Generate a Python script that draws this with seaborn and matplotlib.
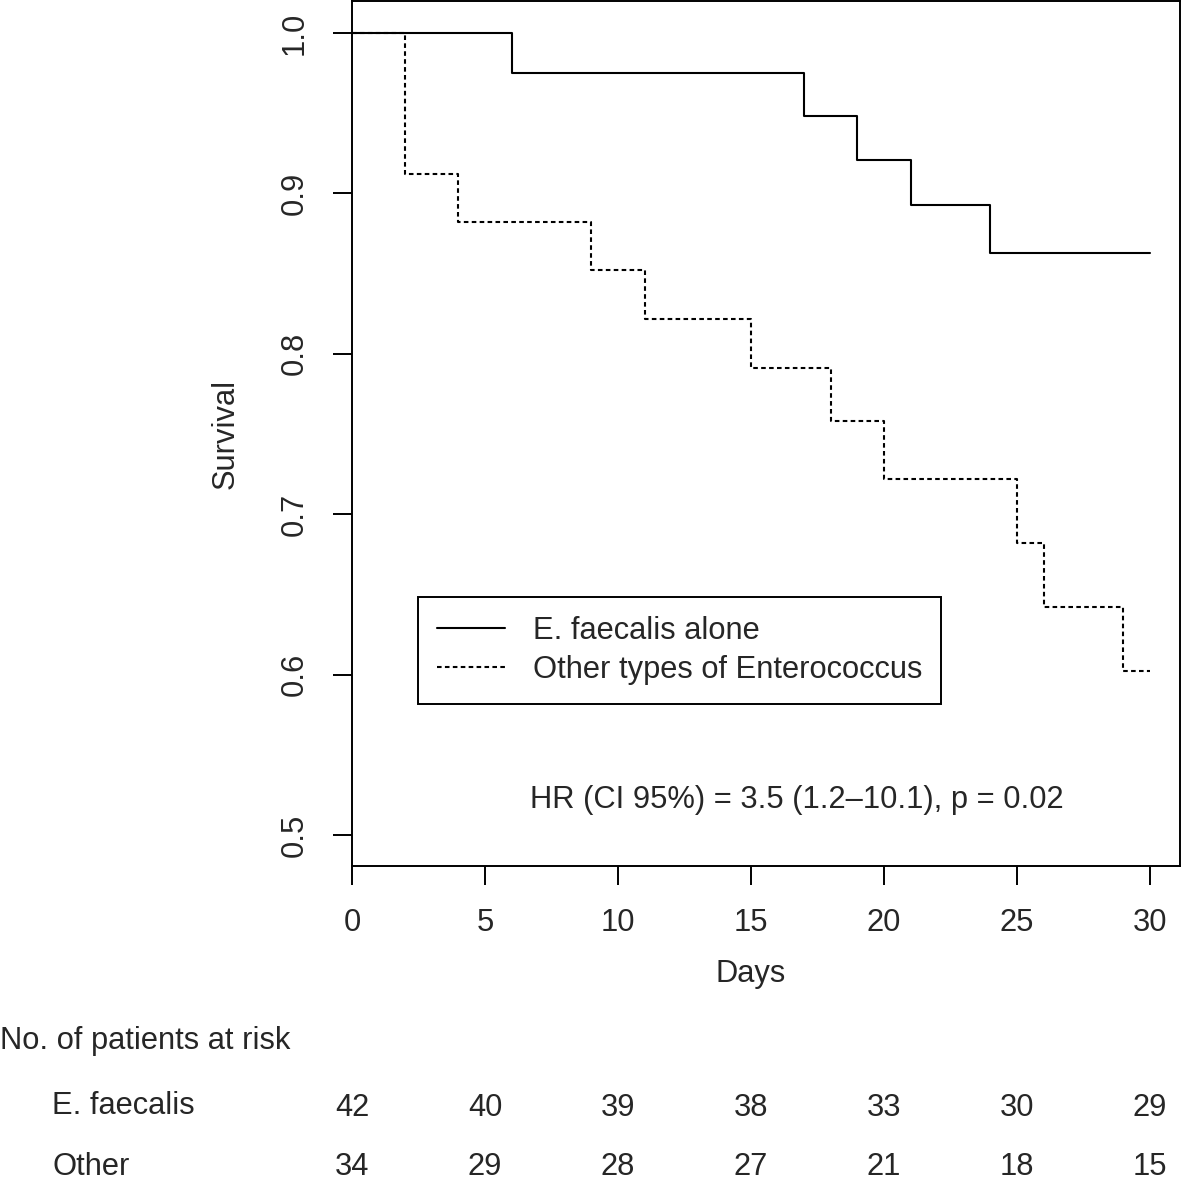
import pandas as pd
import matplotlib.pyplot as plt
import matplotlib.transforms as mtransforms
from matplotlib.lines import Line2D
import seaborn as sns

# Kaplan-Meier curves
faecalis_days = [0, 6, 17, 19, 21, 24, 30]
faecalis_surv = [1.0, 0.975, 0.948, 0.921, 0.893, 0.863, 0.863]

other_days = [0, 2, 4, 9, 11, 15, 18, 20, 25, 26, 29, 30]
other_surv = [1.0, 0.912, 0.882, 0.852, 0.822, 0.791, 0.758, 0.722, 0.682, 0.642, 0.602, 0.602]

group_names = ["E. faecalis alone", "Other types of Enterococcus"]

# Patients at risk table
risk_days = [0, 5, 10, 15, 20, 25, 30]
risk_faecalis = [42, 40, 39, 38, 33, 30, 29]
risk_other = [34, 29, 28, 27, 21, 18, 15]

df = pd.concat([
    pd.DataFrame({"Days": faecalis_days, "Survival": faecalis_surv, "Group": group_names[0]}),
    pd.DataFrame({"Days": other_days, "Survival": other_surv, "Group": group_names[1]}),
])

FS = 22.2
sns.set_style("white")
plt.rcParams['font.family'] = ['Liberation Sans', 'DejaVu Sans']
plt.rcParams['font.size'] = FS

fig = plt.figure(figsize=(11.82, 11.83), dpi=100)
ax = fig.add_axes([352 / 1182, 317 / 1183, 828 / 1182, 865 / 1183])

sns.lineplot(data=df, x="Days", y="Survival", style="Group", estimator=None,
             drawstyle="steps-post", color="black", linewidth=1.5,
             dashes={group_names[0]: "", group_names[1]: (2.2, 1.6)},
             legend=False, ax=ax)

ax.set_xlim(0, 31.13)
ax.set_ylim(0.4807, 1.02)
ax.set_xticks(range(0, 31, 5))
ax.set_yticks([0.5, 0.6, 0.7, 0.8, 0.9, 1.0])
ax.set_yticklabels(["0.5", "0.6", "0.7", "0.8", "0.9", "1.0"], rotation=90, va="center")
ax.tick_params(direction="out", length=13.5, width=1.4, color="black", pad=17,
               labelsize=FS, left=True, bottom=True)
for s in ax.spines.values():
    s.set_color("black")
    s.set_linewidth(1.4)

ax.set_xlabel("Days", fontsize=FS, labelpad=18)
ax.xaxis.set_label_coords(15 / 31.13, -0.108)
ax.set_ylabel("Survival", fontsize=FS, labelpad=28)

# legend
handles = [Line2D([], [], color="black", lw=1.5),
           Line2D([], [], color="black", lw=1.5, dashes=(2.2, 1.6))]
leg = ax.legend(handles, group_names, loc="lower left",
                bbox_to_anchor=(0.0797, 0.187), fancybox=False, framealpha=1,
                edgecolor="black", fontsize=FS, handlelength=2.2,
                handletextpad=0.9, borderpad=0.62, labelspacing=0.3,
                borderaxespad=0)
leg.get_frame().set_linewidth(1.4)

ax.text((530 - 352) / 828, (866 - 800) / 865, "HR (CI 95%) = 3.5 (1.2\u201310.1), p = 0.02",
        transform=ax.transAxes, fontsize=FS, va="center", ha="left")

# at risk table
trans = mtransforms.blended_transform_factory(ax.transData, fig.transFigure)
fig.text(0, 1 - 1041 / 1183, "No. of patients at risk", fontsize=FS, va="center", ha="left")
fig.text(52 / 1182, 1 - 1106 / 1183, "E. faecalis", fontsize=FS, va="center", ha="left")
fig.text(52 / 1182, 1 - 1167 / 1183, "Other", fontsize=FS, va="center", ha="left")
for d, a, b in zip(risk_days, risk_faecalis, risk_other):
    ax.text(d, 1 - 1108 / 1183, str(a), transform=trans, fontsize=FS, va="center", ha="center")
    ax.text(d, 1 - 1167 / 1183, str(b), transform=trans, fontsize=FS, va="center", ha="center")

fig.savefig("out.png", dpi=100, facecolor="white")
